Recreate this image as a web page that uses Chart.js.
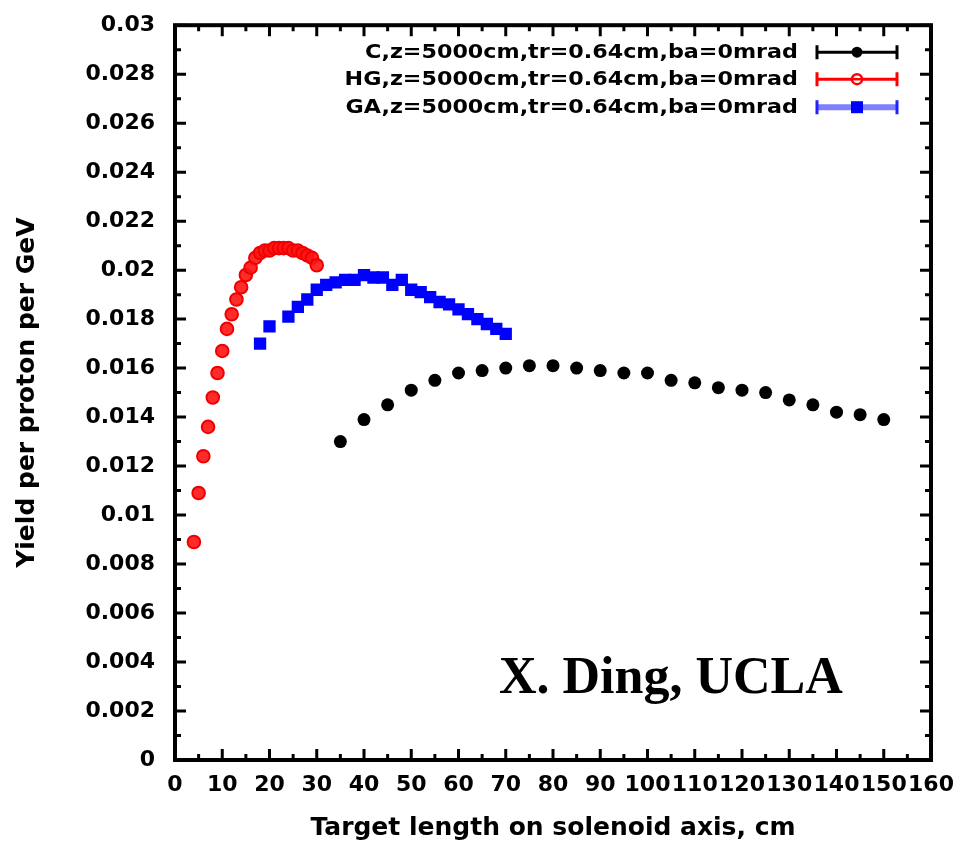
<!DOCTYPE html>
<html>
<head>
<meta charset="utf-8">
<script src="https://cdn.jsdelivr.net/npm/chart.js@4.4.1/dist/chart.umd.min.js"></script>
<style>
  html, body { margin: 0; padding: 0; background: #fff; }
  #wrap { width: 960px; height: 845px; }
</style>
</head>
<body>
<div id="wrap"><canvas id="yieldChart" width="960" height="845"></canvas></div>
<script>
// target length (cm) and yield per proton per GeV
var cLength = [35, 40, 45, 50, 55, 60, 65, 70, 75, 80, 85, 90, 95, 100, 105, 110, 115, 120, 125, 130, 135, 140, 145, 150];
var cYield = [0.0130, 0.0139, 0.0145, 0.0151, 0.0155, 0.0158, 0.0159, 0.0160, 0.0161, 0.0161, 0.0160, 0.0159,
              0.0158, 0.0158, 0.0155, 0.0154, 0.0152, 0.0151, 0.0150, 0.0147, 0.0145, 0.0142, 0.0141, 0.0139];

var hgLength = [4, 5, 6, 7, 8, 9, 10, 11, 12, 13, 14, 15, 16, 17, 18, 19, 20, 21, 22, 23, 24, 25, 26, 27, 28, 29, 30];
var hgYield = [0.0089, 0.0109, 0.0124, 0.0136, 0.0148, 0.0158, 0.0167, 0.0176, 0.0182, 0.0188, 0.0193, 0.0198,
               0.0201, 0.0205, 0.0207, 0.0208, 0.0208, 0.0209, 0.0209, 0.0209, 0.0209, 0.0208, 0.0208, 0.0207,
               0.0206, 0.0205, 0.0202];

var gaLength = [18, 20, 24, 26, 28, 30, 32, 34, 36, 38, 40, 42, 44, 46, 48, 50, 52, 54, 56, 58, 60, 62, 64, 66, 68, 70];
var gaYield = [0.0170, 0.0177, 0.0181, 0.0185, 0.0188, 0.0192, 0.0194, 0.0195, 0.0196, 0.0196, 0.0198, 0.0197,
               0.0197, 0.0194, 0.0196, 0.0192, 0.0191, 0.0189, 0.0187, 0.0186, 0.0184, 0.0182, 0.0180, 0.0178,
               0.0176, 0.0174];

var seriesNames = ['C,z=5000cm,tr=0.64cm,ba=0mrad', 'HG,z=5000cm,tr=0.64cm,ba=0mrad', 'GA,z=5000cm,tr=0.64cm,ba=0mrad'];

var xTicks = [0, 10, 20, 30, 40, 50, 60, 70, 80, 90, 100, 110, 120, 130, 140, 150, 160];
var yTicks = [0, 0.002, 0.004, 0.006, 0.008, 0.01, 0.012, 0.014, 0.016, 0.018, 0.02, 0.022, 0.024, 0.026, 0.028, 0.03];

function pts(xs, ys) {
    var out = [];
    for (var i = 0; i < xs.length; i++) out.push({x: xs[i], y: ys[i]});
    return out;
}

Chart.defaults.font.family = '"DejaVu Sans", sans-serif';
Chart.defaults.font.weight = 'bold';
Chart.defaults.color = '#000';

// gnuplot style box: thick frame, inward major/minor ticks on all four sides,
// error-bar legend in the top right corner and the author tag
var framePlugin = {
    id: 'frame',
    afterDraw: function(chart) {
        var ctx = chart.ctx;
        var a = chart.chartArea;
        var xs = chart.scales.x, ys = chart.scales.y;
        ctx.save();
        ctx.strokeStyle = '#000';
        ctx.lineCap = 'butt';

        ctx.lineWidth = 3;
        var i, p;
        for (i = 0; i < xTicks.length; i++) {
            p = xs.getPixelForValue(xTicks[i]);
            ctx.beginPath();
            ctx.moveTo(p, a.bottom); ctx.lineTo(p, a.bottom - 11);
            ctx.moveTo(p, a.top); ctx.lineTo(p, a.top + 11);
            ctx.stroke();
            if (i < xTicks.length - 1) {
                p = xs.getPixelForValue((xTicks[i] + xTicks[i + 1]) / 2);
                ctx.beginPath();
                ctx.moveTo(p, a.bottom); ctx.lineTo(p, a.bottom - 6);
                ctx.moveTo(p, a.top); ctx.lineTo(p, a.top + 6);
                ctx.stroke();
            }
        }
        for (i = 0; i < yTicks.length; i++) {
            p = ys.getPixelForValue(yTicks[i]);
            ctx.beginPath();
            ctx.moveTo(a.left, p); ctx.lineTo(a.left + 11, p);
            ctx.moveTo(a.right, p); ctx.lineTo(a.right - 11, p);
            ctx.stroke();
            if (i < yTicks.length - 1) {
                p = ys.getPixelForValue((yTicks[i] + yTicks[i + 1]) / 2);
                ctx.beginPath();
                ctx.moveTo(a.left, p); ctx.lineTo(a.left + 6, p);
                ctx.moveTo(a.right, p); ctx.lineTo(a.right - 6, p);
                ctx.stroke();
            }
        }

        ctx.lineWidth = 4;
        ctx.strokeRect(a.left, a.top, a.right - a.left, a.bottom - a.top);

        // legend
        var textRight = a.right - 133;
        var x0 = a.right - 114, x1 = a.right - 34, xm = (x0 + x1) / 2;
        var rows = [a.top + 27, a.top + 54, a.top + 82];
        ctx.font = 'bold 19px "DejaVu Sans"';
        ctx.textAlign = 'right';
        ctx.textBaseline = 'middle';
        ctx.fillStyle = '#000';
        for (i = 0; i < seriesNames.length; i++) {
            ctx.save();
            ctx.translate(textRight, rows[i] + 1);
            ctx.scale(1.17, 1);
            ctx.fillText(seriesNames[i], 0, 0);
            ctx.restore();
        }
        var lineCols = ['#000', '#ff0000', 'rgba(40,40,255,0.6)'];
        var lineW = [3, 3, 6];
        for (i = 0; i < 3; i++) {
            var y = rows[i];
            ctx.strokeStyle = lineCols[i];
            ctx.lineWidth = lineW[i];
            ctx.beginPath();
            ctx.moveTo(x0, y); ctx.lineTo(x1, y);
            ctx.stroke();
            ctx.lineWidth = 3;
            ctx.strokeStyle = i === 2 ? '#2222ff' : lineCols[i];
            ctx.beginPath();
            ctx.moveTo(x0, y - 7); ctx.lineTo(x0, y + 7);
            ctx.moveTo(x1, y - 7); ctx.lineTo(x1, y + 7);
            ctx.stroke();
        }
        ctx.fillStyle = '#000';
        ctx.beginPath(); ctx.arc(xm, rows[0], 5.5, 0, Math.PI * 2); ctx.fill();
        ctx.fillStyle = '#fff';
        ctx.strokeStyle = '#ff0000';
        ctx.lineWidth = 2.5;
        ctx.beginPath(); ctx.arc(xm, rows[1], 5, 0, Math.PI * 2); ctx.fill(); ctx.stroke();
        ctx.beginPath(); ctx.moveTo(xm - 5, rows[1]); ctx.lineTo(xm + 5, rows[1]); ctx.stroke();
        ctx.fillStyle = '#0000ff';
        ctx.fillRect(xm - 6, rows[2] - 6, 12, 12);

        ctx.font = 'bold 52px "Liberation Serif"';
        ctx.textAlign = 'left';
        ctx.textBaseline = 'alphabetic';
        ctx.fillStyle = '#000';
        ctx.fillText('X. Ding, UCLA', 499, 693);
        ctx.restore();
    }
};

var ctx = document.getElementById('yieldChart');
var yieldChart = new Chart(ctx, {
    type: 'scatter',
    data: {
        datasets: [{
            label: seriesNames[0],
            data: pts(cLength, cYield),
            pointStyle: 'circle',
            pointRadius: 6.5,
            backgroundColor: '#000',
            borderColor: '#000',
            borderWidth: 0
        }, {
            label: seriesNames[1],
            data: pts(hgLength, hgYield),
            pointStyle: 'circle',
            pointRadius: 6.3,
            backgroundColor: 'rgba(255,20,20,0.9)',
            borderColor: '#f00000',
            borderWidth: 2
        }, {
            label: seriesNames[2],
            data: pts(gaLength, gaYield),
            pointStyle: 'rect',
            pointRadius: 8.7,
            backgroundColor: '#0000ff',
            borderColor: '#0000ff',
            borderWidth: 0
        }]
    },
    options: {
        responsive: false,
        devicePixelRatio: 1,
        animation: false,
        layout: { padding: { left: 0, right: 29, top: 23, bottom: 0 } },
        plugins: {
            legend: { display: false },
            tooltip: { enabled: false }
        },
        scales: {
            x: {
                type: 'linear',
                min: 0,
                max: 160,
                afterBuildTicks: function(scale) {
                    scale.ticks = xTicks.map(function(v) { return {value: v}; });
                },
                afterFit: function(scale) { scale.height = 85; },
                grid: { display: false },
                border: { display: false },
                ticks: {
                    autoSkip: false,
                    maxRotation: 0,
                    padding: 4,
                    font: { size: 22, weight: 'bold' },
                    callback: function(v) { return String(v); }
                },
                title: {
                    display: true,
                    text: 'Target length on solenoid axis, cm',
                    font: { size: 25, weight: 'bold' },
                    padding: { top: 0, bottom: 2 }
                }
            },
            y: {
                type: 'linear',
                min: 0,
                max: 0.03,
                afterBuildTicks: function(scale) {
                    scale.ticks = yTicks.map(function(v) { return {value: v}; });
                },
                afterFit: function(scale) { scale.width = 175; },
                grid: { display: false },
                border: { display: false },
                ticks: {
                    autoSkip: false,
                    padding: 12,
                    font: { size: 22, weight: 'bold' },
                    callback: function(v) { return String(Number(v.toFixed(3))); }
                },
                title: {
                    display: true,
                    text: 'Yield per proton per GeV',
                    font: { size: 25, weight: 'bold' },
                    padding: { top: 12, bottom: 0 }
                }
            }
        }
    },
    plugins: [framePlugin]
});
</script>
</body>
</html>
